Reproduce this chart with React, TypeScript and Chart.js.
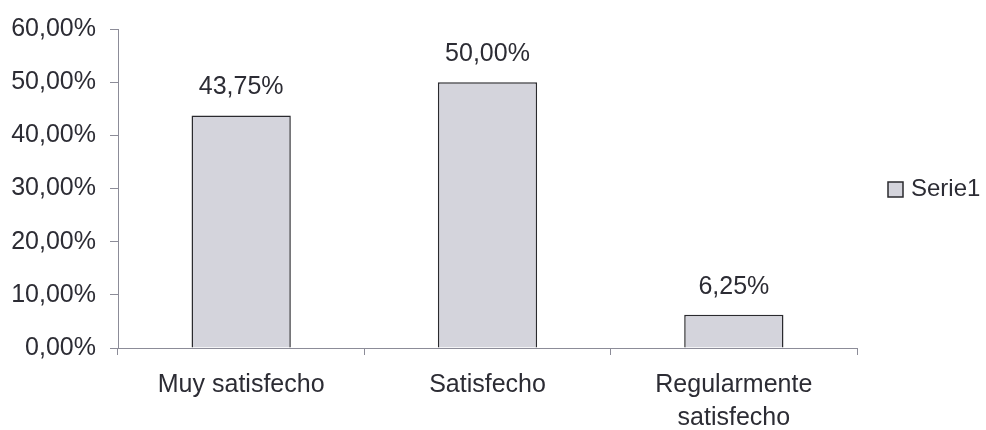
import React, { useEffect, useRef } from "react";
import { Chart, registerables } from "chart.js";

Chart.register(...registerables);

const categories: (string | string[])[] = [
  "Muy satisfecho",
  "Satisfecho",
  ["Regularmente", "satisfecho"],
];
const serieName = "Serie1";
const serieValues = [43.75, 50.0, 6.25];
const yMax = 60;
const yStep = 10;

const FONT = '"Liberation Sans", Arial, sans-serif';
const TEXT_COLOR = "#2c2c34";
const AXIS_COLOR = "#8c8c98";
const BAR_FILL = "#d4d4dc";
const BAR_BORDER = "#2a2a2e";

const pct = (v: number) => v.toFixed(2).replace(".", ",") + "%";

// Value labels above each bar
const valueLabels = {
  id: "valueLabels",
  afterDatasetsDraw(chart: any) {
    const ctx = chart.ctx;
    const meta = chart.getDatasetMeta(0);
    ctx.save();
    ctx.font = `25px ${FONT}`;
    ctx.fillStyle = TEXT_COLOR;
    ctx.textAlign = "center";
    ctx.textBaseline = "alphabetic";
    meta.data.forEach((bar: any, i: number) => {
      ctx.fillText(pct(serieValues[i]), bar.x, bar.y - 21);
    });
    ctx.restore();
  },
};

// Single-entry legend to the right of the plot
const sideLegend = {
  id: "sideLegend",
  afterDraw(chart: any) {
    const { ctx, chartArea } = chart;
    const x = chartArea.right + 31;
    const yMid = (chartArea.top + chartArea.bottom) / 2 + 1;
    ctx.save();
    ctx.fillStyle = BAR_FILL;
    ctx.strokeStyle = BAR_BORDER;
    ctx.lineWidth = 1.5;
    ctx.fillRect(x, yMid - 7.5, 15, 15);
    ctx.strokeRect(x, yMid - 7.5, 15, 15);
    ctx.font = `24px ${FONT}`;
    ctx.fillStyle = TEXT_COLOR;
    ctx.textAlign = "left";
    ctx.textBaseline = "middle";
    ctx.fillText(serieName, x + 23, yMid);
    ctx.restore();
  },
};

export default function App() {
  const canvasRef = useRef<HTMLCanvasElement | null>(null);

  useEffect(() => {
    if (!canvasRef.current) return;
    const chart = new Chart(canvasRef.current, {
      type: "bar",
      data: {
        labels: categories,
        datasets: [
          {
            label: serieName,
            data: serieValues,
            backgroundColor: BAR_FILL,
            borderColor: BAR_BORDER,
            borderWidth: 1.5,
            categoryPercentage: 1,
            barPercentage: 0.403,
          },
        ],
      },
      options: {
        responsive: false,
        animation: false,
        layout: { padding: { top: 20, right: 129, bottom: 0, left: 0 } },
        plugins: {
          legend: { display: false },
          tooltip: { enabled: false },
        },
        scales: {
          x: {
            offset: true,
            grid: {
              display: true,
              drawOnChartArea: false,
              offset: true,
              color: AXIS_COLOR,
              tickLength: 7,
            },
            border: { color: AXIS_COLOR, width: 1 },
            ticks: {
              color: TEXT_COLOR,
              font: { family: FONT, size: 25, lineHeight: 1.3 },
              padding: 14,
              maxRotation: 0,
              autoSkip: false,
            },
            afterFit: (scale: any) => {
              scale.height = 82;
            },
          },
          y: {
            min: 0,
            max: yMax,
            grid: {
              display: true,
              drawOnChartArea: false,
              color: AXIS_COLOR,
              tickLength: 8,
            },
            border: { color: AXIS_COLOR, width: 1 },
            ticks: {
              stepSize: yStep,
              color: TEXT_COLOR,
              font: { family: FONT, size: 25 },
              padding: 14,
              callback: (v: any) => pct(Number(v)),
            },
            afterFit: (scale: any) => {
              scale.width = 118;
            },
          },
        },
      },
      plugins: [valueLabels, sideLegend],
    });
    return () => chart.destroy();
  }, []);

  return (
    <div style={{ position: "absolute", left: 0, top: 0, width: 986, height: 430, background: "#fff" }}>
      <canvas ref={canvasRef} width={986} height={430} style={{ display: "block" }} />
    </div>
  );
}
